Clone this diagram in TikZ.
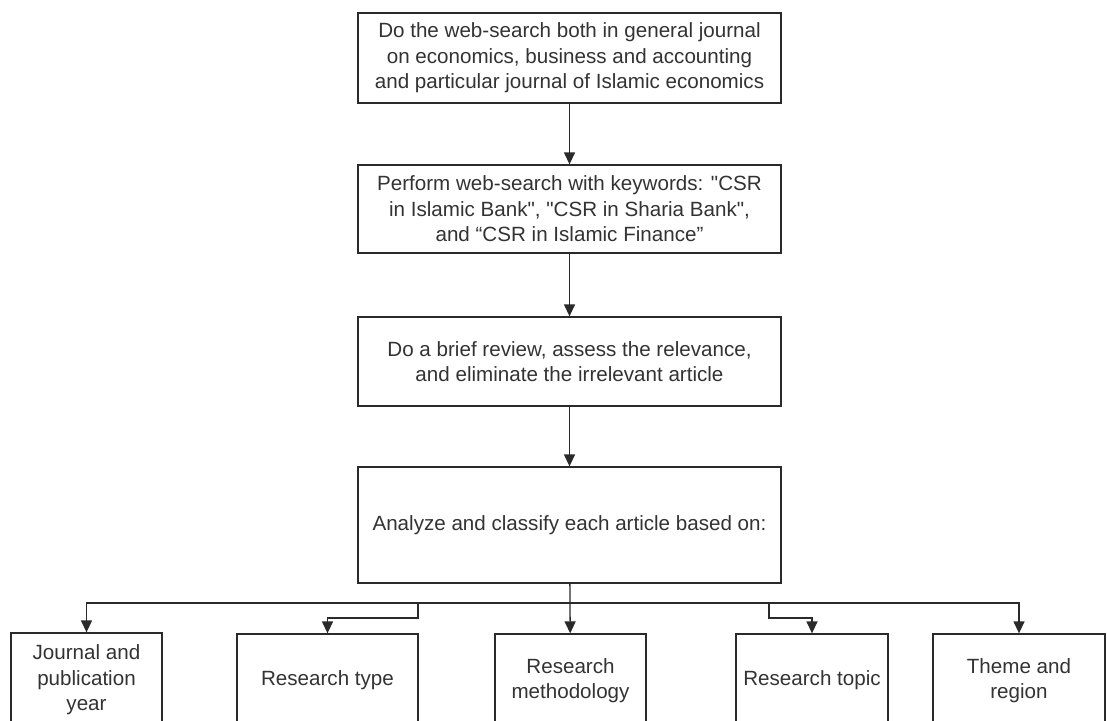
\documentclass[tikz,border=0pt]{standalone}
\usepackage{fontspec}
\setmainfont{Liberation Sans}
\usetikzlibrary{arrows.meta}
\definecolor{ink}{HTML}{2A2A2A}
\definecolor{txt}{HTML}{333333}
\tikzset{
  boxa/.style={draw=ink, line width=1.3pt, inner sep=0pt, align=center, text=txt,
    font=\fontsize{20.6}{25.5}\selectfont},
  conn/.style={draw=ink, line width=1.3pt},
  arr/.style={conn, -{Triangle[width=11pt,length=12pt]}},
}
\begin{document}
\begin{tikzpicture}[x=1pt,y=-1pt]
\useasboundingbox (0,0) rectangle (1107,720);
\clip (0,0) rectangle (1107,720);
\fill[white] (0,0) rectangle (1107,720);
\node[boxa, minimum width=423pt, minimum height=90pt] (b1) at (569.5,58)
  {Do the web-search both in general journal\\on economics, business and accounting\\and particular journal of Islamic economics};
\node[boxa, minimum width=423pt, minimum height=88pt] (b2) at (569.5,209)
  {Perform web-search with keywords: \textquotedbl CSR\\in Islamic Bank\textquotedbl, \textquotedbl CSR in Sharia Bank\textquotedbl,\\and “CSR in Islamic Finance”};
\node[boxa, minimum width=423pt, minimum height=89pt] (b3) at (569.5,361.5)
  {Do a brief review, assess the relevance,\\and eliminate the irrelevant article};
\node[boxa, minimum width=423pt, minimum height=116pt] (b4) at (569.5,525)
  {Analyze and classify each article based on:};
\node[boxa, minimum width=151pt, minimum height=94pt] (j) at (86.5,680)
  {Journal and\\publication\\year};
\node[boxa, minimum width=181pt, minimum height=93pt] (rt) at (327.5,680.5)
  {Research type};
\node[boxa, minimum width=151pt, minimum height=93pt] (rm) at (570.5,680.5)
  {Research\\methodology};
\node[boxa, minimum width=152pt, minimum height=93pt] (tp) at (812,680.5)
  {Research topic};
\node[boxa, minimum width=172pt, minimum height=93pt] (th) at (1019,680.5)
  {Theme and\\region};
\coordinate (hub) at (570,603);
\coordinate (brt) at (418,603);
\coordinate (btp) at (769,603);
\draw[arr] (b1) -- (b2);
\draw[arr] (b2) -- (b3);
\draw[arr] (b3) -- (b4);
\draw[conn] (b4) -- (hub);
\draw[arr] (hub) -- (rm);
\draw[arr] (hub) -| (j);
\draw[arr] (hub) -| (th);
\draw[arr] (brt) -- ++(0,15) -| (rt);
\draw[arr] (btp) -- ++(0,15) -| (tp);
\end{tikzpicture}
\end{document}
